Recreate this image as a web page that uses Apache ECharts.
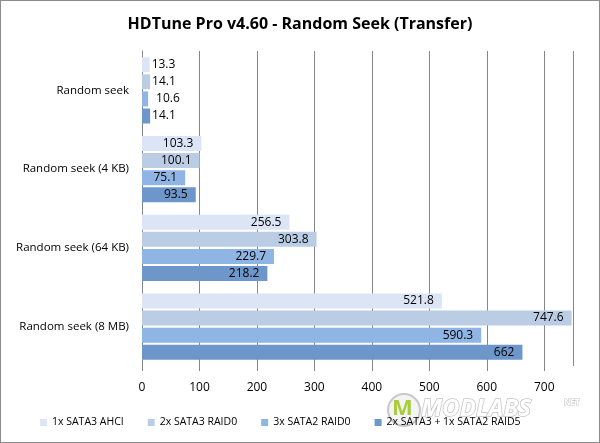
<!DOCTYPE html>
<html><head><meta charset="utf-8">
<script src="https://cdn.jsdelivr.net/npm/echarts@6/dist/echarts.min.js"></script>
<style>html,body{margin:0;padding:0;background:#fff}#c{width:600px;height:443px;box-sizing:border-box;border:1px solid #8c8c8c}</style>
</head><body><div id="c"></div>
<script>
var categories = ['Random seek', 'Random seek (4 KB)', 'Random seek (64 KB)', 'Random seek (8 MB)'];
var seriesNames = ['1x SATA3 AHCI', '2x SATA3 RAID0', '3x SATA2 RAID0', '2x SATA3 + 1x SATA2 RAID5'];
var ahci = [13.3, 103.3, 256.5, 521.8];
var raid0x2 = [14.1, 100.1, 303.8, 747.6];
var raid0x3 = [10.6, 75.1, 229.7, 590.3];
var raid5 = [14.1, 93.5, 218.2, 662];
var colors = ['#dce5f5', '#bacde5', '#8eb5e3', '#6d97cb'];
var xTicks = [0, 100, 200, 300, 400, 500, 600, 700];

var font = '"Open Sans", "Noto Sans", sans-serif';
var allData = [ahci, raid0x2, raid0x3, raid5];
var series = allData.map(function (arr, i) {
  return {
    name: seriesNames[i], type: 'bar', barWidth: 15, barGap: '14%',
    itemStyle: { color: colors[i] },
    data: arr.map(function (v) {
      return { value: v, label: { position: v > 50 ? 'insideRight' : 'right', distance: v > 50 ? 8 : (i === 2 ? 8 : 2) } };
    }),
    label: { show: true, color: '#000', fontSize: 12, fontFamily: font,
      formatter: function (p) { return String(p.value); } }
  };
});
var chart = echarts.init(document.getElementById('c'));
chart.setOption({
  animation: false,
  color: colors,
  title: { text: 'HDTune Pro v4.60 - Random Seek (Transfer)', left: 'center', top: 10,
    textStyle: { fontSize: 16, fontWeight: 'bold', color: '#000', fontFamily: font } },
  legend: { bottom: 9, left: 34, itemWidth: 7, itemHeight: 7, itemGap: 24, icon: 'rect', z: 10,
    textStyle: { fontSize: 10.5, color: '#000', fontFamily: font }, data: seriesNames },
  graphic: [
    { type: 'circle', z: 0, shape: { cx: 403, cy: 409, r: 16 },
      style: { fill: '#f4f4f4', stroke: '#c8c8c8', lineWidth: 2 } },
    { type: 'text', z: 0, x: 391, y: 397,
      style: { text: 'M', fontSize: 22, fontWeight: 'bold', fontFamily: font, fill: '#a8cc3a' } },
    { type: 'text', z: 0, x: 420, y: 396,
      style: { text: 'MODLABS', fontSize: 24, fontStyle: 'italic', fontWeight: 'bold', fontFamily: font,
        fill: '#ffffff', stroke: '#c4c4c4', lineWidth: 1.5 } },
    { type: 'text', z: 0, x: 563, y: 398,
      style: { text: 'NET', fontSize: 8, fontWeight: 'bold', fontFamily: font, fill: '#ffffff', stroke: '#c4c4c4', lineWidth: 1 } }
  ],
  grid: { left: 141, right: 26, top: 50, bottom: 76, containLabel: false },
  xAxis: { type: 'value', min: xTicks[0], max: 750, interval: 100,
    axisLine: { show: false }, axisTick: { show: true, length: 5, lineStyle: { color: '#868686' } },
    axisLabel: { showMaxLabel: false, fontSize: 12, color: '#000', fontFamily: font, margin: 16 },
    splitLine: { show: true, lineStyle: { color: '#868686', width: 1 } } },
  yAxis: { type: 'category', data: categories, inverse: true,
    axisLine: { show: true, lineStyle: { color: '#868686' } }, axisTick: { show: false },
    axisLabel: { fontSize: 11.5, color: '#000', fontFamily: font, margin: 13 } },
  series: series
});
</script></body></html>
